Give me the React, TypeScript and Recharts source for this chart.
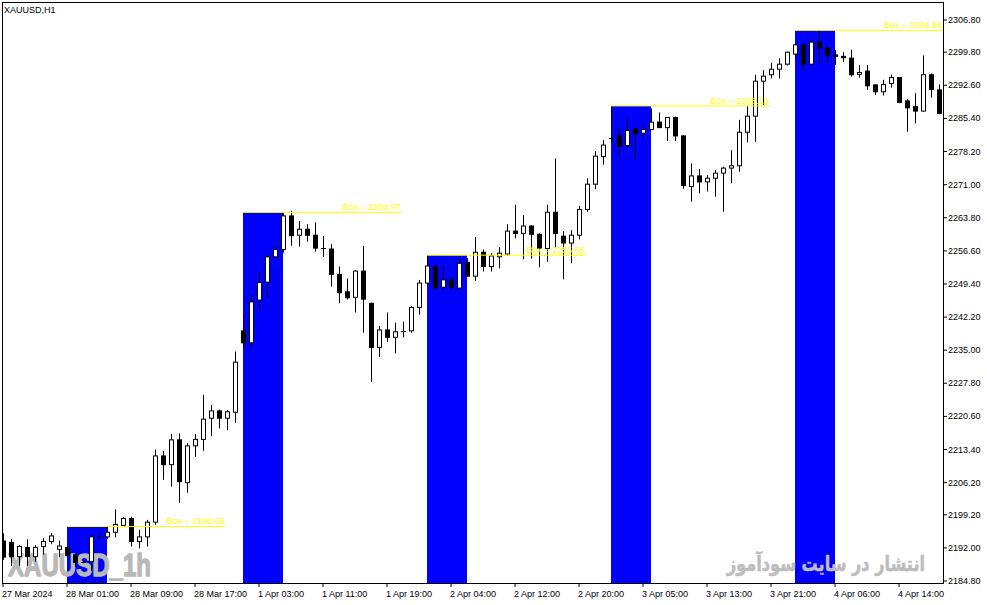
import React from 'react';
import { ComposedChart, Bar, XAxis, YAxis, ReferenceArea, ReferenceLine } from 'recharts';

// ---- data (XAUUSD H1) ----
const OPEN = [
  2193.5, 2193.2, 2190.1, 2192.1, 2190.1, 2192.3, 2193.4, 2191.7, 2192.1, 2190.5,
  2189.0, 2189.0, 2194.4, 2194.4, 2195.4, 2196.9, 2198.4, 2193.4, 2194.4, 2197.6,
  2212.0, 2210.1, 2215.5, 2206.2, 2214.2, 2215.6, 2220.2, 2221.8, 2220.2, 2221.5,
  2239.2, 2236.6, 2245.9, 2249.8, 2255.3, 2256.9, 2264.2, 2260.0, 2261.3, 2260.0,
  2257.2, 2257.0, 2251.5, 2247.7, 2246.5, 2252.2, 2245.2, 2235.6, 2239.4, 2237.8,
  2239.0, 2239.2, 2244.3, 2249.6, 2253.3, 2248.7, 2250.3, 2248.5, 2254.1, 2251.1,
  2256.3, 2253.2, 2255.3, 2255.9, 2260.9, 2260.4, 2262.0, 2260.2, 2257.1, 2265.0,
  2259.8, 2258.3, 2260.0, 2265.6, 2271.1, 2277.1, 2281.0, 2281.6, 2279.5, 2283.1,
  2282.2, 2283.0, 2284.6, 2283.4, 2285.6, 2281.6, 2270.6, 2272.9, 2271.6, 2272.4,
  2273.5, 2274.6, 2275.1, 2282.4, 2285.9, 2293.5, 2294.9, 2296.1, 2297.2, 2299.4,
  2301.4, 2297.2, 2302.0, 2300.7, 2299.2, 2298.9, 2298.5, 2295.0, 2295.7, 2292.7,
  2291.2, 2293.0, 2294.3, 2289.2, 2288.0, 2287.0, 2294.9, 2291.6,
];
const HIGH = [
  2195.2, 2193.9, 2192.6, 2193.9, 2192.6, 2194.1, 2195.2, 2193.6, 2192.3, 2190.8,
  2189.4, 2194.8, 2195.3, 2196.6, 2200.4, 2198.7, 2198.8, 2195.9, 2198.1, 2213.4,
  2213.1, 2216.8, 2216.9, 2214.8, 2216.8, 2225.3, 2223.1, 2222.1, 2222.0, 2234.7,
  2243.0, 2247.0, 2251.9, 2256.1, 2257.7, 2264.8, 2265.3, 2263.1, 2262.4, 2262.8,
  2259.8, 2258.1, 2253.2, 2250.6, 2252.4, 2257.7, 2245.3, 2240.3, 2243.2, 2241.0,
  2241.2, 2244.6, 2250.3, 2255.7, 2253.5, 2253.3, 2250.7, 2255.0, 2255.0, 2259.6,
  2256.9, 2256.1, 2257.4, 2262.4, 2266.6, 2264.4, 2262.2, 2260.4, 2266.6, 2276.7,
  2260.9, 2261.1, 2266.4, 2272.4, 2278.3, 2280.7, 2288.1, 2283.3, 2285.6, 2283.3,
  2284.1, 2287.6, 2286.7, 2285.7, 2285.8, 2281.8, 2275.6, 2274.4, 2273.1, 2274.2,
  2274.9, 2278.5, 2285.1, 2288.1, 2294.9, 2295.9, 2297.5, 2298.5, 2299.9, 2301.7,
  2301.5, 2302.5, 2304.5, 2301.5, 2300.3, 2299.8, 2300.3, 2297.0, 2297.0, 2292.7,
  2293.8, 2294.9, 2294.4, 2289.6, 2290.9, 2299.1, 2295.2, 2292.8,
];
const LOW = [
  2189.4, 2188.1, 2188.1, 2188.1, 2189.0, 2190.5, 2192.8, 2190.0, 2190.1, 2187.9,
  2188.8, 2187.0, 2193.9, 2193.9, 2194.3, 2196.6, 2192.3, 2191.9, 2192.3, 2197.0,
  2206.8, 2205.3, 2201.8, 2204.0, 2211.8, 2213.1, 2216.3, 2218.0, 2217.6, 2219.2,
  2235.8, 2235.4, 2243.7, 2246.6, 2254.8, 2256.2, 2257.7, 2257.5, 2258.6, 2256.4,
  2255.3, 2248.8, 2245.2, 2246.0, 2243.2, 2238.8, 2228.1, 2233.5, 2236.8, 2234.3,
  2237.8, 2238.8, 2242.7, 2248.7, 2248.2, 2248.2, 2248.2, 2248.2, 2251.0, 2250.1,
  2252.1, 2252.1, 2252.8, 2255.5, 2259.3, 2254.8, 2254.9, 2253.0, 2254.2, 2257.2,
  2250.4, 2253.9, 2259.1, 2265.1, 2270.0, 2275.3, 2280.3, 2277.5, 2278.9, 2276.4,
  2281.2, 2282.9, 2283.4, 2280.5, 2280.5, 2270.1, 2267.3, 2269.1, 2269.5, 2268.4,
  2265.1, 2271.3, 2273.8, 2280.2, 2280.3, 2288.3, 2294.1, 2294.1, 2296.9, 2298.5,
  2295.9, 2296.9, 2297.2, 2297.4, 2297.0, 2297.7, 2294.5, 2294.3, 2291.6, 2290.5,
  2290.4, 2292.1, 2288.7, 2282.5, 2284.3, 2286.9, 2289.9, 2286.3,
];
const CLOSE = [
  2190.0, 2190.1, 2192.3, 2190.1, 2192.1, 2193.4, 2194.6, 2192.4, 2190.3, 2188.8,
  2189.0, 2194.4, 2194.5, 2195.4, 2197.1, 2198.4, 2193.4, 2194.4, 2197.6, 2212.0,
  2210.1, 2215.5, 2206.4, 2214.2, 2215.6, 2220.0, 2221.8, 2220.2, 2221.6, 2232.4,
  2236.6, 2245.5, 2249.7, 2255.3, 2256.9, 2264.2, 2259.9, 2261.3, 2260.0, 2257.2,
  2257.0, 2251.5, 2247.5, 2246.4, 2252.2, 2246.1, 2235.6, 2239.4, 2237.8, 2239.0,
  2239.1, 2244.3, 2249.6, 2253.3, 2248.5, 2250.3, 2248.7, 2253.9, 2251.1, 2256.3,
  2253.2, 2255.5, 2256.1, 2260.9, 2260.4, 2262.0, 2260.2, 2257.1, 2265.0, 2260.4,
  2258.3, 2260.0, 2265.6, 2271.1, 2277.2, 2279.6, 2281.2, 2279.4, 2282.8, 2282.1,
  2283.0, 2284.6, 2283.4, 2285.6, 2281.6, 2270.8, 2272.9, 2271.6, 2272.4, 2273.5,
  2274.6, 2275.1, 2282.4, 2285.9, 2293.5, 2294.6, 2296.1, 2297.2, 2299.8, 2301.4,
  2297.2, 2302.0, 2300.7, 2299.1, 2298.9, 2298.6, 2294.9, 2295.4, 2292.5, 2291.2,
  2292.8, 2294.3, 2288.9, 2287.7, 2287.0, 2294.9, 2291.7, 2286.5,
];

const TIME_TICKS = [0, 8, 16, 24, 32, 40, 48, 56, 64, 72, 80, 88, 96, 104, 112];
const TIME_LABELS = [
  '27 Mar 2024', '28 Mar 01:00', '28 Mar 09:00', '28 Mar 17:00', '1 Apr 03:00',
  '1 Apr 11:00', '1 Apr 19:00', '2 Apr 04:00', '2 Apr 12:00', '2 Apr 20:00',
  '3 Apr 05:00', '3 Apr 13:00', '3 Apr 21:00', '4 Apr 06:00', '4 Apr 14:00',
];
const PRICE_TICKS = [
  2306.8, 2299.8, 2292.6, 2285.4, 2278.2, 2271.0, 2263.8, 2256.6, 2249.4,
  2242.2, 2235.0, 2227.8, 2220.6, 2213.4, 2206.2, 2199.2, 2192.0, 2184.8,
];

const BOX_START = [8, 30, 53, 76, 99];
const BOX_PRICE = [2196.66, 2264.97, 2255.66, 2288.13, 2304.56];
const BOX_BARS = 5;
const BOX_LINE_BARS = 19.85;

const X_MIN = -0.125;
const X_MAX = 117.5;
const Y_MIN = 2184.37;
const Y_MAX = 2310.72;

const FONT = '"Liberation Sans", Arial, sans-serif';

const data = OPEN.map((o, i) => ({
  i,
  open: o,
  high: HIGH[i],
  low: LOW[i],
  close: CLOSE[i],
  range: [LOW[i], HIGH[i]],
}));

const Candle = (props: any) => {
  const { x, y, width, height, payload } = props;
  if (x == null || y == null || !payload) return null;
  const top = Math.min(y, y + height);
  const bot = Math.max(y, y + height);
  const span = payload.high - payload.low;
  const ppu = span > 0 ? (bot - top) / span : 0;
  const py = (v: number) => top + (payload.high - v) * ppu;
  const cx = Math.round(x + width / 2);
  const oy = py(payload.open);
  const cy = py(payload.close);
  const bull = payload.close >= payload.open;
  const bt = Math.min(oy, cy);
  const bh = Math.abs(oy - cy);
  return (
    <g>
      <line x1={cx + 0.5} x2={cx + 0.5} y1={top} y2={bot} stroke="#000" strokeWidth={1} />
      {bh < 1 ? (
        <line x1={cx - 2} x2={cx + 3} y1={Math.round(bt) + 0.5} y2={Math.round(bt) + 0.5} stroke="#000" strokeWidth={1} />
      ) : (
        <rect x={cx - 1.5} y={bt} width={4} height={bh} fill={bull ? '#fff' : '#000'} stroke="#000" strokeWidth={1} />
      )}
    </g>
  );
};

const TimeTick = (props: any) => {
  const { x, y, payload } = props;
  const idx = TIME_TICKS.indexOf(payload.value);
  return (
    <text x={x - 1} y={y + 10} fontSize={9} fontFamily={FONT} fill="#000" textAnchor="start">
      {idx >= 0 ? TIME_LABELS[idx] : ''}
    </text>
  );
};

const PriceTick = (props: any) => {
  const { x, y, payload } = props;
  return (
    <text x={x + 1} y={y + 3} fontSize={9} fontFamily={FONT} fill="#000" textAnchor="start">
      {Number(payload.value).toFixed(2)}
    </text>
  );
};

const makeBoxLabel = (price: number) => (p: any) => {
  const vb = p.viewBox || {};
  return (
    <text x={(vb.x || 0) + (vb.width || 0) - 1} y={(vb.y || 0) - 2} fontSize={9} fontFamily={FONT} fill="#ffff00" textAnchor="end">
      {`Box = ${price.toFixed(2)}`}
    </text>
  );
};

const Watermarks = () => (
  <g>
    <text x={8} y={576} fontSize={31} fontWeight="bold" fontFamily={FONT} fill="#b8b8b8" stroke="#b8b8b8" strokeWidth={1.4} strokeLinejoin="round" textLength={143} lengthAdjust="spacingAndGlyphs">
      XAUUSD_1h
    </text>
    <text x={925} y={571} fontSize={21} fontWeight="bold" fontFamily='"DejaVu Sans", sans-serif' fill="#bdbdbd" stroke="#bdbdbd" strokeWidth={0.6} textAnchor="end" textLength={198} lengthAdjust="spacingAndGlyphs">
      انتشار در سایت سودآموز
    </text>
  </g>
);

export default function App() {
  return (
    <div style={{ position: 'absolute', left: 0, top: 0, width: 987, height: 605, background: '#fff', overflow: 'hidden' }}>
      <ComposedChart width={987} height={605} data={data} margin={{ top: 2, right: 0, bottom: 0, left: 2 }}>
        <XAxis
          dataKey="i"
          type="number"
          domain={[X_MIN, X_MAX]}
          allowDataOverflow
          ticks={TIME_TICKS}
          interval={0}
          height={22}
          axisLine={false}
          tickLine={{ stroke: '#000' }}
          tickSize={4}
          tickMargin={0}
          tick={<TimeTick />}
        />
        <YAxis
          type="number"
          orientation="right"
          domain={[Y_MIN, Y_MAX]}
          allowDataOverflow
          ticks={PRICE_TICKS}
          interval={0}
          width={44}
          axisLine={false}
          tickLine={{ stroke: '#000' }}
          tickSize={4}
          tickMargin={0}
          tick={<PriceTick />}
        />
        {BOX_START.map((s, k) => (
          <ReferenceArea
            key={`box${k}`}
            x1={s}
            x2={s + BOX_BARS}
            y1={Y_MIN}
            y2={BOX_PRICE[k]}
            fill="#0000ff"
            fillOpacity={1}
            stroke="none"
            ifOverflow="hidden"
          />
        ))}
        <ReferenceArea
          x1={X_MIN}
          x2={X_MAX}
          y1={Y_MIN}
          y2={Y_MAX}
          fill="none"
          fillOpacity={0}
          stroke="none"
          label={() => <Watermarks />}
        />
        {BOX_START.map((s, k) => (
          <ReferenceLine
            key={`line${k}`}
            segment={[
              { x: s, y: BOX_PRICE[k] },
              { x: Math.min(s + BOX_LINE_BARS, X_MAX), y: BOX_PRICE[k] },
            ]}
            stroke="#ffff00"
            strokeWidth={1}
            ifOverflow="hidden"
            label={makeBoxLabel(BOX_PRICE[k])}
          />
        ))}
        <Bar dataKey="range" shape={Candle} barSize={5} isAnimationActive={false} />
        <text x={4} y={13} fontSize={9} fontFamily={FONT} fill="#000">
          XAUUSD,H1
        </text>
      </ComposedChart>
      <div
        style={{
          position: 'absolute',
          left: 2,
          top: 2,
          width: 942,
          height: 582,
          border: '1px solid #000',
          boxSizing: 'border-box',
          pointerEvents: 'none',
        }}
      />
    </div>
  );
}
